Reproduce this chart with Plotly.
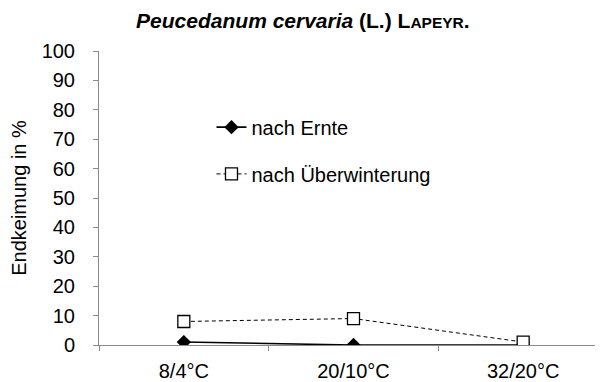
import plotly.graph_objects as go

categories = ["8/4°C", "20/10°C", "32/20°C"]
nach_ernte = [1, 0, 0]
nach_ueberwinterung = [8, 9, 1]
y_ticks = [0, 10, 20, 30, 40, 50, 60, 70, 80, 90, 100]

FONT = "Liberation Sans, Arial, sans-serif"
AXIS = "#898989"

fig = go.Figure()
fig.add_trace(go.Scatter(
    x=categories, y=nach_ernte, name="nach Ernte", mode="lines+markers",
    line=dict(color="black", width=1.6),
    marker=dict(symbol="diamond", size=11, color="black"),
    legend="legend", showlegend=True,
))
fig.add_trace(go.Scatter(
    x=categories, y=nach_ueberwinterung, name="nach Überwinterung", mode="lines+markers",
    line=dict(color="black", width=1, dash="4px,3px"),
    marker=dict(symbol="square", size=12, color="white", line=dict(color="black", width=1.3)),
    legend="legend2", showlegend=True,
))

fig.update_layout(
    width=603, height=382,
    margin=dict(l=91, r=3, t=43, b=45, autoexpand=False),
    paper_bgcolor="white", plot_bgcolor="white",
    font=dict(family=FONT, size=20, color="black"),
    showlegend=True,
    title=dict(
        text="<b><i>Peucedanum cervaria</i> (L.) L<span style='font-size:15.5px'>APEYR</span>.</b>",
        x=0.489, xanchor="center", y=0.966, yanchor="middle",
        font=dict(family=FONT, size=21, color="black"),
    ),
    xaxis=dict(
        type="category", range=[-0.5, 2.5], tickson="boundaries",
        showline=True, linecolor=AXIS, linewidth=1,
        ticks="outside", ticklen=5, tickcolor=AXIS,
        showgrid=False, zeroline=False, automargin=False,
        tickfont=dict(size=20), ticklabelstandoff=8,
    ),
    yaxis=dict(
        range=[0, 100], tickvals=y_ticks,
        showline=True, linecolor=AXIS, linewidth=1,
        ticks="outside", ticklen=5, tickcolor=AXIS,
        showgrid=False, zeroline=False, automargin=False,
        title=dict(text="Endkeimung in %", font=dict(size=20), standoff=12),
        tickfont=dict(size=20), ticklabelstandoff=14,
    ),
    legend=dict(x=0.221, y=0.741, xanchor="left", yanchor="middle",
                bgcolor="rgba(0,0,0,0)", font=dict(size=20)),
    legend2=dict(x=0.221, y=0.582, xanchor="left", yanchor="middle",
                 bgcolor="rgba(0,0,0,0)", font=dict(size=20)),
)

fig.write_html("out.html")
